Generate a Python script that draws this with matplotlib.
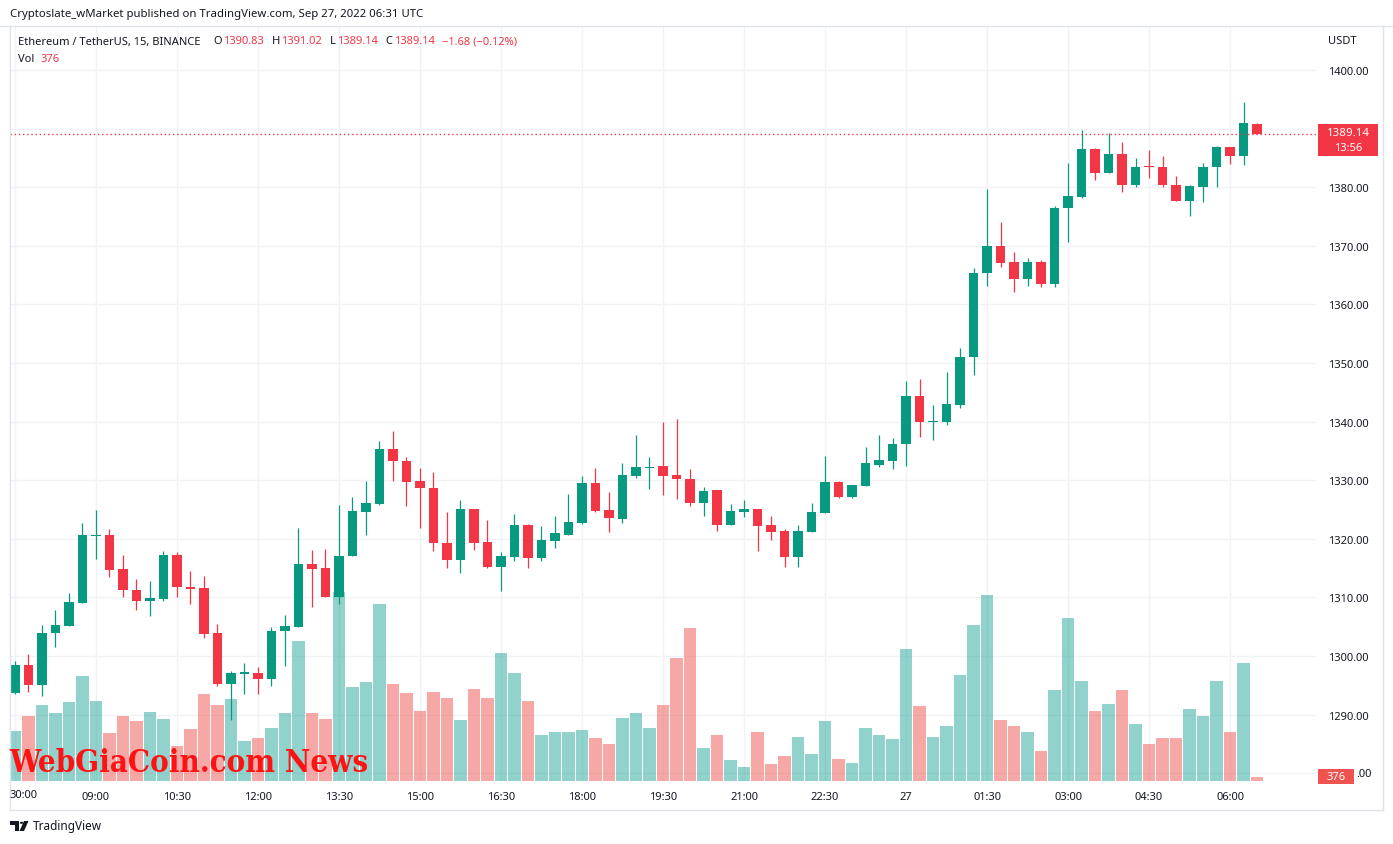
import numpy as np
import matplotlib.pyplot as plt
from matplotlib.patches import Rectangle, Polygon, Circle
from matplotlib.lines import Line2D

plt.rcParams['font.family'] = ['Noto Sans', 'DejaVu Sans']

# ETHUSDT 15m candles, 07:30 Sep 26 -> 06:30 Sep 27
opens = [1293.7, 1298.5, 1295.1, 1304.0, 1305.2, 1309.1, 1320.5, 1320.6, 1314.8, 1311.3,
         1309.4, 1309.8, 1317.2, 1311.8, 1311.6, 1303.9, 1295.3, 1297.0, 1297.1, 1296.1,
         1304.2, 1305.0, 1315.7, 1315.0, 1310.0, 1317.0, 1324.6, 1326.0, 1335.3, 1333.2,
         1329.9, 1328.7, 1319.3, 1316.3, 1325.1, 1319.5, 1315.2, 1316.9, 1322.4, 1316.7,
         1319.6, 1320.7, 1322.7, 1329.5, 1324.9, 1323.4, 1330.7, 1332.1, 1332.4, 1330.9,
         1330.2, 1326.1, 1328.3, 1322.4, 1324.6, 1325.1, 1322.4, 1321.3, 1316.9, 1321.2,
         1324.4, 1329.7, 1327.1, 1329.0, 1332.6, 1333.3, 1336.1, 1344.4, 1339.9, 1340.0,
         1342.9, 1351.1, 1365.4, 1369.9, 1367.2, 1364.3, 1367.2, 1363.5, 1376.4, 1378.4,
         1386.5, 1382.5, 1385.7, 1380.3, 1383.5, 1383.5, 1380.4, 1377.7, 1380.1, 1383.5,
         1386.9, 1385.4, 1390.83]
highs = [1299.1, 1300.3, 1305.3, 1307.9, 1310.8, 1322.7, 1324.9, 1321.7, 1317.2, 1313.1,
         1312.8, 1317.9, 1317.8, 1314.5, 1313.7, 1305.5, 1297.4, 1298.8, 1298.1, 1304.9,
         1307.0, 1321.8, 1318.1, 1318.3, 1325.8, 1327.1, 1329.9, 1336.7, 1338.4, 1334.0,
         1332.1, 1331.4, 1324.6, 1326.6, 1325.1, 1323.2, 1317.8, 1324.2, 1322.5, 1322.2,
         1323.9, 1327.6, 1330.7, 1332.1, 1328.0, 1332.9, 1337.7, 1334.0, 1339.9, 1340.4,
         1331.9, 1328.8, 1328.3, 1325.9, 1326.6, 1325.1, 1323.9, 1321.7, 1322.4, 1326.1,
         1334.1, 1329.9, 1329.2, 1335.7, 1337.7, 1337.2, 1347.0, 1347.3, 1342.8, 1348.4,
         1352.5, 1366.2, 1379.7, 1374.0, 1369.0, 1368.0, 1367.5, 1376.8, 1384.1, 1389.8,
         1386.7, 1389.3, 1387.7, 1385.0, 1386.4, 1385.3, 1381.9, 1380.4, 1384.1, 1387.0,
         1386.9, 1394.5, 1391.02]
lows = [1293.5, 1293.9, 1293.2, 1301.6, 1305.2, 1309.1, 1316.6, 1313.5, 1310.0, 1307.9,
        1306.9, 1309.4, 1310.1, 1308.9, 1303.0, 1294.9, 1289.1, 1293.6, 1293.6, 1294.8,
        1298.3, 1305.0, 1308.4, 1310.0, 1308.9, 1317.0, 1320.7, 1325.8, 1329.9, 1325.6,
        1321.9, 1318.0, 1315.1, 1314.2, 1318.1, 1315.0, 1311.1, 1316.2, 1315.0, 1316.2,
        1318.4, 1320.7, 1322.5, 1324.6, 1321.2, 1322.7, 1330.4, 1328.5, 1327.5, 1326.8,
        1325.6, 1323.9, 1321.3, 1322.4, 1323.7, 1317.9, 1319.8, 1315.2, 1315.2, 1321.2,
        1324.4, 1326.9, 1326.9, 1329.0, 1332.3, 1331.9, 1332.4, 1337.3, 1336.8, 1339.4,
        1342.4, 1348.0, 1363.1, 1366.4, 1362.1, 1363.1, 1363.0, 1363.0, 1370.7, 1378.2,
        1381.3, 1382.5, 1379.1, 1380.1, 1381.5, 1380.1, 1377.7, 1375.1, 1377.5, 1380.1,
        1384.0, 1383.8, 1389.14]
closes = [1298.5, 1295.1, 1304.0, 1305.3, 1309.2, 1320.6, 1320.7, 1314.7, 1311.2, 1309.4,
          1309.9, 1317.2, 1311.7, 1311.5, 1303.8, 1295.3, 1297.1, 1297.2, 1296.1, 1304.3,
          1305.1, 1315.7, 1314.9, 1310.0, 1317.1, 1324.7, 1326.1, 1335.3, 1333.2, 1329.7,
          1328.6, 1319.2, 1316.3, 1325.1, 1319.3, 1315.2, 1317.1, 1322.4, 1316.7, 1319.8,
          1321.0, 1322.9, 1329.5, 1324.8, 1323.6, 1330.9, 1332.3, 1332.3, 1330.7, 1330.2,
          1326.1, 1328.2, 1322.4, 1324.7, 1325.1, 1322.2, 1321.2, 1316.9, 1321.3, 1324.6,
          1329.7, 1327.1, 1329.2, 1332.9, 1333.4, 1336.2, 1344.4, 1339.9, 1340.1, 1343.0,
          1351.1, 1365.4, 1369.9, 1367.1, 1364.3, 1367.2, 1363.5, 1376.5, 1378.5, 1386.5,
          1382.5, 1385.7, 1380.3, 1383.5, 1383.4, 1380.3, 1377.7, 1380.2, 1383.5, 1386.9,
          1385.4, 1391.0, 1389.14]
volumes = [4670, 6080, 7120, 6360, 7400, 9840, 7490, 4480, 6080, 5610,
           6460, 5800, 3260, 4860, 8150, 7120, 7680, 3730, 4010, 4950,
           6360, 13130, 6360, 5800, 17740, 8810, 9280, 16610, 9090, 8240,
           6550, 8340, 7770, 5710, 8620, 7770, 12000, 10120, 7490, 4300,
           4580, 4580, 4770, 4010, 3450, 5890, 6360, 4950, 7120, 11530,
           14350, 3070, 4300, 1950, 1290, 4580, 1570, 2320, 4110, 2510,
           5610, 2040, 1660, 4950, 4300, 3920, 12380, 7020, 4150, 5160,
           9940, 14650, 17520, 5710, 5160, 4620, 2830, 8550, 15320, 9400,
           6580, 7240, 8550, 5360, 3480, 4040, 4040, 6770, 6110, 9400,
           4610, 11090, 376]

time_ticks = [6, 12, 18, 24, 30, 36, 42, 48, 54, 60, 66, 72, 78, 84, 90]
time_labels = ['09:00', '10:30', '12:00', '13:30', '15:00', '16:30', '18:00', '19:30',
               '21:00', '22:30', '27', '01:30', '03:00', '04:30', '06:00']
price_ticks = list(range(1290, 1401, 10))

UP, DOWN = '#089981', '#f23645'
VUP, VDOWN = '#26a69a', '#ef5350'
TXT = '#131722'
GRID = '#f0f2f5'
BORDER = '#e0e3eb'

W, H = 1393, 845
fig = plt.figure(figsize=(W / 100, H / 100), dpi=100)
renderer = fig.canvas.get_renderer()


def fx(x):
    return x / W


def fy(y):
    return 1 - y / H


# plot area in pixels
L, R, T, B = 10, 1316, 27, 782
ax = fig.add_axes([fx(L), fy(B), (R - L) / W, (B - T) / H])

n = len(opens)
x = np.arange(n)
o = np.array(opens)
c = np.array(closes)
up = c >= o
cols = np.where(up, UP, DOWN)
vcols = np.where(up, VUP, VDOWN)

pmin, pmax = 1278.67, 1407.51
vmax = 70970  # volume that would fill the full pane height
ax.set_xlim(-0.37, 96.37)
ax.set_ylim(pmin, pmax)

# volume overlay, scaled into the lower part of the price pane
vscale = (pmax - pmin) / vmax
ax.bar(x, np.array(volumes) * vscale, bottom=pmin, width=0.89, color=vcols,
       alpha=0.5, linewidth=0, zorder=1)

# candles
ax.vlines(x, lows, highs, colors=cols, lw=0.9, zorder=2)
body_lo = np.minimum(o, c)
body_h = np.maximum(np.abs(c - o), 0.2)
ax.bar(x, body_h, bottom=body_lo, width=0.67, color=cols, linewidth=0, zorder=3)

# last price line
ax.axhline(closes[-1], color=DOWN, lw=1, linestyle=(0, (1, 2)), zorder=4)

# grid / ticks
ax.set_xticks([0] + time_ticks)
ax.set_xticklabels([''] + time_labels)
ax.set_yticks([1280] + price_ticks)
ax.set_yticklabels([''] + [f'{p:.2f}' for p in price_ticks])
ax.yaxis.tick_right()
ax.tick_params(axis='both', length=0, labelsize=8, labelcolor=TXT)
ax.tick_params(axis='x', pad=7)
ax.tick_params(axis='y', pad=8.5)
for lab in ax.get_xticklabels():
    if lab.get_text() == '27':
        lab.set_fontweight('bold')
ax.grid(True, color=GRID, lw=1, zorder=0)
ax.set_axisbelow(True)
for s in ax.spines.values():
    s.set_visible(False)

# clipped first time label
fig.text(fx(10), fy(796), '30:00', fontsize=8, color=TXT, va='center', ha='left')

# frame lines
for (x0, y0, x1, y1) in [(0, 26.5, W, 26.5), (9.5, 26.5, 9.5, 810.5),
                         (1382.5, 26.5, 1382.5, 810.5), (9.5, 810.5, 1382.5, 810.5)]:
    fig.add_artist(Line2D([fx(x0), fx(x1)], [fy(y0), fy(y1)], color=BORDER, lw=1))

# header
fig.text(fx(10), fy(14), 'Cryptoslate_wMarket published on TradingView.com, Sep 27, 2022 06:31 UTC',
         fontsize=8.2, color=TXT, va='center')


def put_row(x0, y, parts, size=8):
    # lay out text pieces left to right, each after the previous one
    xpos = x0
    for txt, color, gap in parts:
        t = fig.text(fx(xpos), fy(y), txt, fontsize=size, color=color, va='center')
        bb = t.get_window_extent(renderer)
        xpos = bb.x1 + gap


put_row(18, 42, [('Ethereum / TetherUS, 15, BINANCE', TXT, 13),
                 ('O', TXT, 1), ('1390.83', DOWN, 8),
                 ('H', TXT, 1), ('1391.02', DOWN, 8),
                 ('L', TXT, 1), ('1389.14', DOWN, 8),
                 ('C', TXT, 1), ('1389.14', DOWN, 7),
                 ('\u22121.68 (\u22120.12%)', DOWN, 0)])
put_row(18, 59, [('Vol', TXT, 6), ('376', DOWN, 0)])

# price axis extras
fig.text(fx(1328), fy(41), 'USDT', fontsize=8, color=TXT, va='center')
fig.add_artist(Rectangle((fx(1318), fy(157)), 60 / W, 32 / H, transform=fig.transFigure,
                         color=DOWN, lw=0, zorder=5))
fig.text(fx(1348), fy(133.5), '1389.14', fontsize=8.3, color='white', weight='bold',
         ha='center', va='center', zorder=6)
fig.text(fx(1348), fy(148.5), '13:56', fontsize=8, color='white', ha='center', va='center', zorder=6)
fig.add_artist(Rectangle((fx(1318), fy(785)), 36 / W, 15 / H, transform=fig.transFigure,
                         color=VDOWN, lw=0, zorder=5))
fig.text(fx(1336), fy(777.5), '376', fontsize=8, color='white', ha='center', va='center', zorder=6)
# the 1280.00 label is hidden behind the volume tag, only its tail shows
fig.text(fx(1356), fy(775), '.00', fontsize=8, color=TXT, ha='left', va='center')

# watermark
fig.text(fx(9), fy(772), 'WebGiaCoin.com News', fontsize=22.4, color='#ff1212',
         family='DejaVu Serif', weight='bold', stretch='condensed', va='baseline', zorder=7)

# TradingView footer
fig.add_artist(Polygon([(fx(10), fy(822)), (fx(19), fy(822)), (fx(19), fy(832)), (fx(15), fy(832)),
                        (fx(15), fy(825.5)), (fx(10), fy(825.5))], closed=True,
                       transform=fig.transFigure, color=TXT, lw=0))
fig.add_artist(Circle((fx(21.5), fy(823.8)), 1.7 / W, transform=fig.transFigure, color=TXT, lw=0))
fig.add_artist(Polygon([(fx(24), fy(822)), (fx(28.5), fy(822)), (fx(24), fy(832)), (fx(19.5), fy(832))],
                       closed=True, transform=fig.transFigure, color=TXT, lw=0))
fig.text(fx(33), fy(827), 'TradingView', fontsize=8.5, color=TXT, va='center')

fig.savefig('out.png', dpi=100, facecolor='white')
